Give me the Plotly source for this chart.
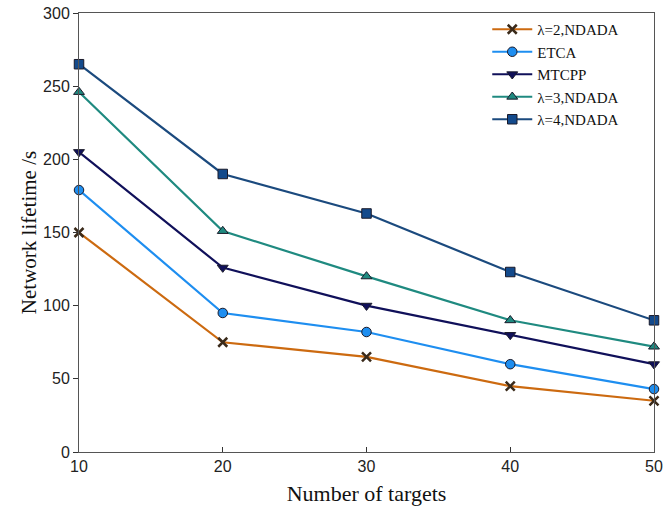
import plotly.graph_objects as go

targets = [10, 20, 30, 40, 50]
lam2 = [150, 75, 65, 45, 35]
etca = [179, 95, 82, 60, 43]
mtcpp = [205, 126, 100, 80, 60]
lam3 = [246, 151, 120, 90, 72]
lam4 = [265, 190, 163, 123, 90]

series = [
    ("\u03bb=2,NDADA", lam2, "#cc6a10", "x-thin", "#3a2a1a"),
    ("ETCA", etca, "#1e8ef0", "circle", "#1e8ef0"),
    ("MTCPP", mtcpp, "#10105a", "triangle-down", "#10105a"),
    ("\u03bb=3,NDADA", lam3, "#1f8a80", "triangle-up", "#1f8a80"),
    ("\u03bb=4,NDADA", lam4, "#1b4a7e", "square", "#134a8c"),
]

fig = go.Figure()
for name, vals, col, sym, mcol in series:
    if sym == "x-thin":
        marker = dict(symbol=sym, size=9, color=mcol, line=dict(width=2.5, color=mcol))
    else:
        marker = dict(symbol=sym, size=9.5, color=mcol, line=dict(width=1, color="#1a1a2a"))
    fig.add_trace(go.Scatter(x=targets, y=vals, name=name, mode="lines+markers",
                             cliponaxis=False,
                             line=dict(color=col, width=2.2), marker=marker))

fig.update_layout(
    width=665, height=512,
    margin=dict(l=79, r=11, t=13, b=60),
    paper_bgcolor="white", plot_bgcolor="white",
    showlegend=True,
    legend=dict(x=0.71, y=1.0, xanchor="left", yanchor="top",
                font=dict(family="Liberation Serif", size=15, color="#111"),
                bgcolor="rgba(0,0,0,0)", tracegroupgap=0, itemwidth=40),
    xaxis=dict(range=[10, 50], tickvals=targets, ticks="inside", ticklen=5,
               tickcolor="#333", showgrid=False, zeroline=False, automargin=False,
               showline=True, linecolor="#555", linewidth=1, mirror=True,
               tickfont=dict(family="Liberation Sans", size=16, color="#222"),
               title=dict(text="Number of targets",
                          font=dict(family="Liberation Serif", size=22, color="#111"),
                          standoff=11)),
    yaxis=dict(range=[0, 300], tickvals=[0, 50, 100, 150, 200, 250, 300],
               ticks="outside", ticklen=5, tickcolor="#333", showgrid=False, zeroline=False,
               automargin=False,
               showline=True, linecolor="#555", linewidth=1, mirror=True,
               tickfont=dict(family="Liberation Sans", size=16, color="#222"),
               title=dict(text="Network lifetime /s",
                          font=dict(family="Liberation Serif", size=21, color="#111"),
                          standoff=0)),
)

fig.write_html("out.html", config={"displayModeBar": False},
               post_script="document.body.style.margin='0';")
